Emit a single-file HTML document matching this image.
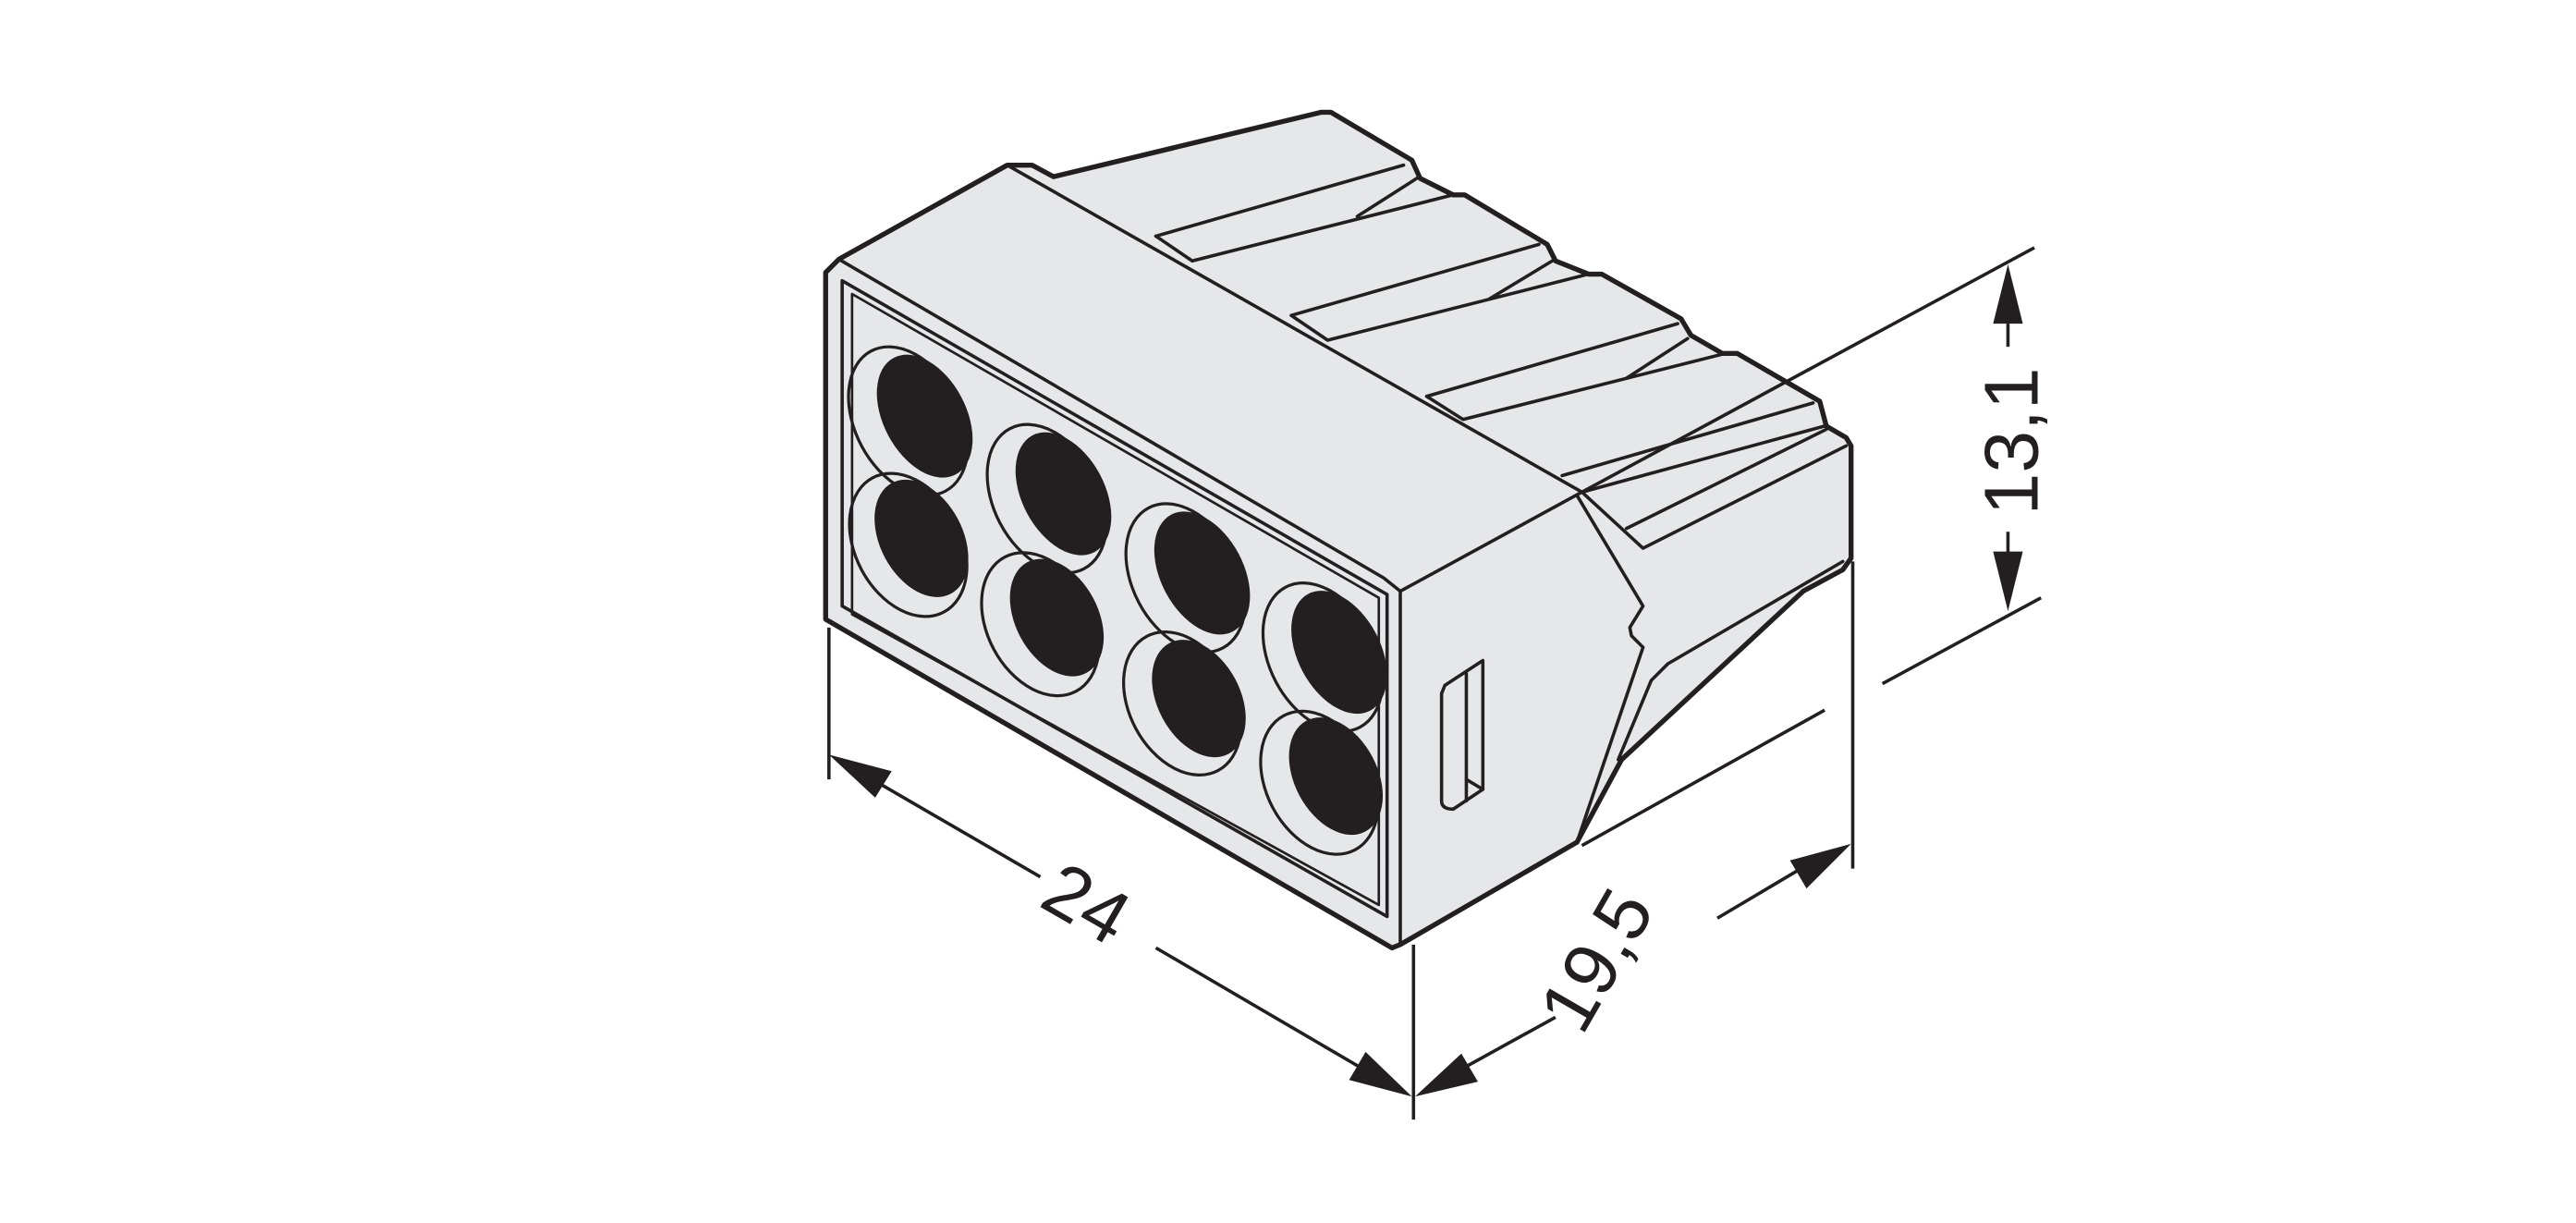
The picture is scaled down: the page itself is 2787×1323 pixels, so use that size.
<!DOCTYPE html>
<html><head><meta charset="utf-8"><style>
html,body{margin:0;padding:0;background:#fff;}
svg{display:block;}
text{font-family:"Liberation Sans",sans-serif;fill:#231f20;}
</style></head><body>
<svg width="2787" height="1323" viewBox="0 0 1560 740.6" preserveAspectRatio="none" xmlns="http://www.w3.org/2000/svg">
<g stroke="#231f20" stroke-linejoin="round" stroke-linecap="round" fill="#e6e7e8">
<polygon stroke-width="3" points="500,165 508,157 610,100 625,100 638,107 800,68 806,68 855,97 860,108 880,118 887,118 937,148 942,158 962,166 970,166 1018,193 1024,203 1043,214 1052,214 1102,243 1106,258 1118,265 1121,270 1121,338 1116,345 1092,358 982,460 955,510 848,572 843,574 500,375"/>
<polyline fill="none" stroke-width="2" points="610,100 958,298"/>
<polyline fill="none" stroke-width="2" points="508,157 838,350 848,358 958,298"/>
<polyline fill="none" stroke-width="2" points="848,358 848,572"/>
<polygon stroke-width="2" fill="none" points="510,170 840,360 840,555 510,367"/>
<polygon stroke-width="1.5" fill="none" points="516,178 835,362 835,548 516,372"/>
<g fill="none" stroke-width="2">
<polyline points="700,143 850,100"/><polyline points="700,143 722,158 880,118"/><polyline points="822,131 858,108"/>
<polyline points="782,191 932,148"/><polyline points="782,191 804,206 962,166"/><polyline points="902,181 940,158"/>
<polyline points="864,240 1016,196"/><polyline points="864,240 886,254 1045,214"/><polyline points="985,229 1022,205"/>
<polyline points="946,288 1098,244"/><polyline points="958,298 1105,258"/><polyline points="958,298 995,332 1118,270"/><polyline points="985,320 1106,260"/>
<polyline points="955,300 995,367 987,380 988,385 995,392 955,510"/>
<polyline points="980,460 1000,412 1010,402 1116,340"/>
<path d="M875,415 L898,400 L898,478 L880,490 Q873,490 873,485 L873,420 Z"/>
<path d="M888,408 L888,485"/><path d="M888,472 L898,478"/>
</g>
<g fill="#231f20" stroke="none">
<ellipse cx="560" cy="252" rx="25" ry="40" transform="rotate(-28 560 252)"/>
<ellipse cx="558" cy="326" rx="25" ry="38" transform="rotate(-28 558 326)"/>
<ellipse cx="644" cy="299" rx="25" ry="40" transform="rotate(-28 644 299)"/>
<ellipse cx="640" cy="374" rx="25" ry="38" transform="rotate(-28 640 374)"/>
<ellipse cx="728" cy="347" rx="25" ry="40" transform="rotate(-28 728 347)"/>
<ellipse cx="726" cy="423" rx="25" ry="38" transform="rotate(-28 726 423)"/>
<ellipse cx="811" cy="395" rx="25" ry="40" transform="rotate(-28 811 395)"/>
<ellipse cx="809" cy="470" rx="25" ry="38" transform="rotate(-28 809 470)"/>
</g>
<g fill="none" stroke-width="1.8">
<ellipse cx="550" cy="255" rx="32" ry="48" transform="rotate(-28 550 255)"/>
<ellipse cx="550" cy="330" rx="32" ry="46" transform="rotate(-28 550 330)"/>
<ellipse cx="634" cy="302" rx="32" ry="48" transform="rotate(-28 634 302)"/>
<ellipse cx="630" cy="378" rx="32" ry="46" transform="rotate(-28 630 378)"/>
<ellipse cx="718" cy="350" rx="32" ry="48" transform="rotate(-28 718 350)"/>
<ellipse cx="716" cy="426" rx="32" ry="46" transform="rotate(-28 716 426)"/>
<ellipse cx="801" cy="398" rx="32" ry="48" transform="rotate(-28 801 398)"/>
<ellipse cx="799" cy="474" rx="32" ry="46" transform="rotate(-28 799 474)"/>
</g>
</g>
<g stroke="#231f20" stroke-width="2" fill="none">
<line x1="502" y1="380" x2="502" y2="472"/>
<line x1="856" y1="572" x2="856" y2="678"/>
<line x1="1122" y1="340" x2="1122" y2="526"/>
<line x1="530" y1="473" x2="630" y2="531"/>
<line x1="700" y1="574" x2="830" y2="650"/>
<line x1="884" y1="648" x2="942" y2="616"/>
<line x1="1040" y1="556" x2="1094" y2="524"/>
<line x1="1105" y1="430" x2="958" y2="512"/>
<line x1="1232" y1="150" x2="958" y2="298"/>
<line x1="1236" y1="362" x2="1140" y2="414"/>
<line x1="1216" y1="196" x2="1216" y2="210"/>
<line x1="1216" y1="322" x2="1216" y2="336"/>
</g>
<g fill="#231f20">
<polygon points="502,457 540,467 530,483"/>
<polygon points="855,664 817,654 827,637"/>
<polygon points="857,664 885,638 895,655"/>
<polygon points="1121,511 1084,521 1094,538"/>
<polygon points="1216,160 1207,196 1225,196"/>
<polygon points="1216,370 1207,334 1225,334"/>
</g>
<text x="0" y="0" font-size="46" transform="translate(628,548) rotate(30)">24</text>
<text x="0" y="0" font-size="46" transform="translate(958,628) rotate(-60)">19,5</text>
<text x="0" y="0" font-size="46" transform="translate(1234,312) rotate(-90)">13,1</text>
</svg>
</body></html>
